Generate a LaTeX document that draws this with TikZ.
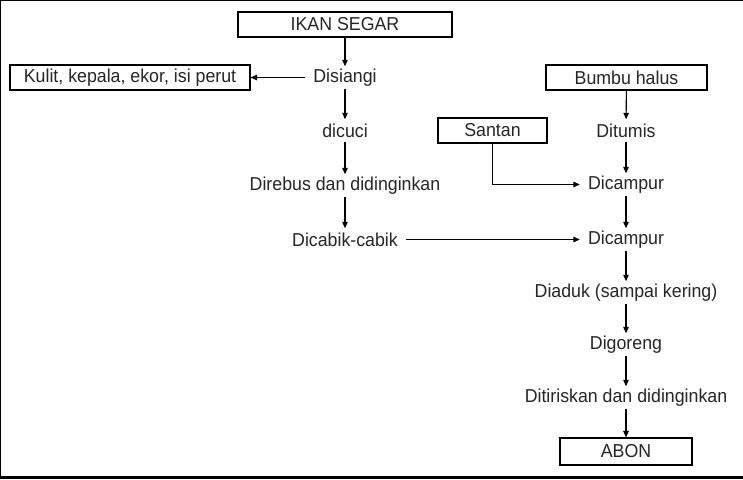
\documentclass[tikz,border=0pt]{standalone}
\usepackage{fontspec}
\setmainfont{Liberation Sans}[FakeStretch=0.95]
\usetikzlibrary{arrows.meta}
\begin{document}
\begin{tikzpicture}[x=1pt,y=-1pt,
  every node/.style={font=\fontsize{18.7}{21}\selectfont, text=black!85},
  boxnode/.style={draw=black, line width=1.1pt, inner sep=0pt, minimum height=25pt},
  txt/.style={inner xsep=8pt, inner ysep=0pt, minimum height=22pt},
  arr/.style={line width=1.1pt, -{Triangle[length=6.5pt,width=5.5pt]}},
  ln/.style={line width=1.1pt}]
\useasboundingbox (0,0) rectangle (743,479);
\fill[white] (0,0) rectangle (743,479);
\draw[line width=1.5pt] (0,479) -- (0,0) -- (743,0);
\draw[line width=3pt] (0,477.5) -- (743,477.5);
% left column
\node[boxnode, minimum width=214pt] (ikan) at (345,24.5) {IKAN SEGAR};
\node[txt] (disiangi) at (345,77.5) {Disiangi};
\node[boxnode, minimum width=240pt] (kulit) at (130,77.5) {Kulit, kepala, ekor, isi perut};
\node[txt] (dicuci) at (345,130.5) {dicuci};
\node[txt] (direbus) at (345,185.5) {Direbus dan didinginkan};
\node[txt] (dicabik) at (345,239.5) {Dicabik-cabik};
% right column
\node[boxnode, minimum width=161pt] (bumbu) at (626.5,77.5) {Bumbu halus};
\node[txt] (ditumis) at (626,130.5) {Ditumis};
\node[boxnode, minimum width=109pt] (santan) at (492.5,130.5) {Santan};
\node[txt] (dc1) at (626,184.5) {Dicampur};
\node[txt] (dc2) at (626,239.5) {Dicampur};
\node[txt] (diaduk) at (626,292.5) {Diaduk (sampai kering)};
\node[txt] (digoreng) at (626,344.5) {Digoreng};
\node[txt] (ditiris) at (626,397.5) {Ditiriskan dan didinginkan};
\node[boxnode, minimum width=132pt, minimum height=27pt] (abon) at (626,451.5) {ABON};
% connectors
\draw[arr] (ikan) -- (disiangi);
\draw[arr] (disiangi) -- (kulit);
\draw[arr] (disiangi) -- (dicuci);
\draw[arr] (dicuci) -- (direbus);
\draw[arr] (direbus) -- (dicabik);
\draw[arr] (dicabik) -- (dc2);
\draw[arr] (bumbu) -- (ditumis);
\draw[arr] (ditumis) -- (dc1);
\draw[arr] (santan.south) |- (dc1.west);
\draw[arr] (dc1) -- (dc2);
\draw[arr] (dc2) -- (diaduk);
\draw[arr] (diaduk) -- (digoreng);
\draw[arr] (digoreng) -- (ditiris);
\draw[arr] (ditiris) -- (abon);
\end{tikzpicture}
\end{document}
